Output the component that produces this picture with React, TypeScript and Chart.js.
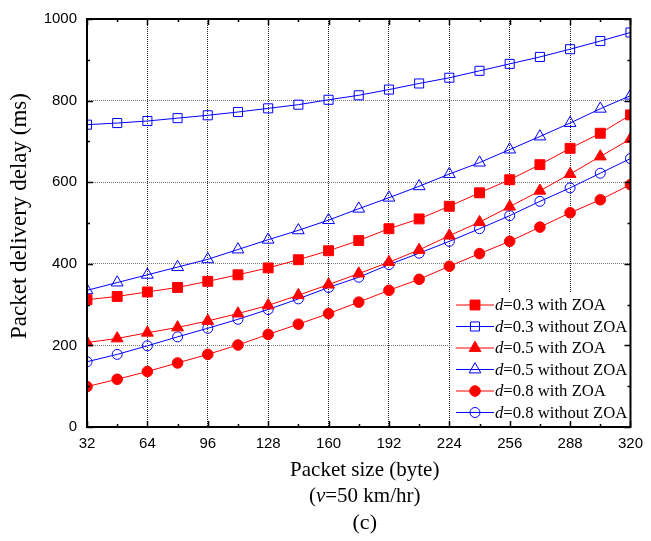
import React, { useEffect, useRef } from 'react';
import { Chart, registerables } from 'chart.js';

Chart.register(...registerables);

const packetSizes = [32, 48, 64, 80, 96, 112, 128, 144, 160, 176, 192, 208, 224, 240, 256, 272, 288, 304, 320];
const xTickValues = [32, 64, 96, 128, 160, 192, 224, 256, 288, 320];
const xMinorTicks = [48, 80, 112, 144, 176, 208, 240, 272, 304];
const yTickValues = [0, 200, 400, 600, 800, 1000];
const yMinorTicks = [100, 300, 500, 700, 900];

const d03With = [312, 320, 331, 342, 357, 373, 390, 410, 432, 457, 486, 510, 541, 574, 606, 643, 683, 720, 765];
const d03Without = [741, 745, 750, 757, 764, 772, 781, 790, 802, 813, 827, 842, 856, 873, 890, 907, 926, 946, 967];
const d05With = [207, 217, 231, 244, 260, 278, 298, 323, 349, 376, 404, 434, 469, 502, 540, 579, 620, 663, 706];
const d05Without = [335, 354, 373, 392, 411, 435, 459, 482, 507, 535, 562, 590, 620, 648, 680, 712, 745, 780, 812];
const d08With = [99, 117, 136, 157, 178, 201, 227, 252, 278, 306, 335, 362, 394, 425, 455, 490, 525, 557, 594];
const d08Without = [160, 178, 199, 221, 242, 264, 288, 314, 342, 367, 398, 426, 455, 486, 518, 553, 586, 622, 658];

const seriesLabels = ['d=0.3 with ZOA', 'd=0.3 without ZOA', 'd=0.5 with ZOA', 'd=0.5 without ZOA', 'd=0.8 with ZOA', 'd=0.8 without ZOA'];
const seriesValues = [d03With, d03Without, d05With, d05Without, d08With, d08Without];
const seriesColors = ['#ff0000', '#0000ff', '#ff0000', '#0000ff', '#ff0000', '#0000ff'];
const seriesStyles = ['rect', 'rect', 'triangle', 'triangle', 'circle', 'circle'];
const seriesFilled = [true, false, true, false, true, false];
const seriesRadius = [7, 6.4, 6.8, 6.8, 5.3, 5];

const xTitle = 'Packet size (byte)';
const xSubTitleItalic = 'v';
const xSubTitlePre = '(';
const xSubTitleRest = '=50 km/hr)';
const captionText = '(c)';
const yTitle = 'Packet delivery delay (ms)';

const SERIF = '"Liberation Serif", "Times New Roman", serif';
const SANS = '"Liberation Sans", Arial, sans-serif';

function drawMarker(ctx: CanvasRenderingContext2D, style: string, x: number, y: number, r: number, color: string, filled: boolean) {
  ctx.beginPath();
  if (style === 'rect') {
    const s = Math.SQRT1_2 * r;
    ctx.rect(x - s, y - s, 2 * s, 2 * s);
  } else if (style === 'triangle') {
    let rad = 0;
    ctx.moveTo(x + Math.sin(rad) * r, y - Math.cos(rad) * r);
    rad += (2 * Math.PI) / 3;
    ctx.lineTo(x + Math.sin(rad) * r, y - Math.cos(rad) * r);
    rad += (2 * Math.PI) / 3;
    ctx.lineTo(x + Math.sin(rad) * r, y - Math.cos(rad) * r);
    ctx.closePath();
  } else {
    ctx.arc(x, y, r, 0, Math.PI * 2);
  }
  if (filled) {
    ctx.fillStyle = color;
    ctx.fill();
  }
  ctx.strokeStyle = color;
  ctx.lineWidth = 1;
  ctx.stroke();
}

const framePlugin = {
  id: 'framePlugin',
  afterDraw(chart: any) {
    const ctx: CanvasRenderingContext2D = chart.ctx;
    const a = chart.chartArea;
    const xs = chart.scales.x;
    const ys = chart.scales.y;
    ctx.save();

    // legend
    const lgLeft = a.left + 366;
    const lgTop = a.top + 273;
    ctx.fillStyle = '#ffffff';
    ctx.fillRect(lgLeft, lgTop, a.right - lgLeft, a.bottom - lgTop);
    seriesLabels.forEach((label, i) => {
      const yy = a.top + 286 + i * 21.5;
      const x0 = lgLeft + 3;
      const x1 = lgLeft + 41;
      ctx.strokeStyle = seriesColors[i];
      ctx.lineWidth = 1;
      ctx.beginPath();
      ctx.moveTo(x0, yy);
      ctx.lineTo(x1, yy);
      ctx.stroke();
      drawMarker(ctx, seriesStyles[i], (x0 + x1) / 2, yy, seriesRadius[i], seriesColors[i], seriesFilled[i]);
      ctx.fillStyle = '#000';
      ctx.textBaseline = 'middle';
      ctx.textAlign = 'left';
      ctx.font = `italic 16.7px ${SERIF}`;
      const first = label.charAt(0);
      ctx.fillText(first, x1 + 1, yy + 1);
      const w = ctx.measureText(first).width;
      ctx.font = `16.7px ${SERIF}`;
      ctx.fillText(label.slice(1), x1 + 1 + w, yy + 1);
    });

    // frame
    ctx.strokeStyle = '#000';
    ctx.lineWidth = 2;
    ctx.strokeRect(a.left, a.top, a.right - a.left, a.bottom - a.top);

    // ticks (inward, mirrored)
    ctx.lineWidth = 1.5;
    ctx.beginPath();
    const xt = (v: number, len: number) => {
      const px = Math.round(xs.getPixelForValue(v)) + 0.5;
      ctx.moveTo(px, a.bottom);
      ctx.lineTo(px, a.bottom - len);
      ctx.moveTo(px, a.top);
      ctx.lineTo(px, a.top + len);
    };
    const yt = (v: number, len: number) => {
      const py = Math.round(ys.getPixelForValue(v)) + 0.5;
      ctx.moveTo(a.left, py);
      ctx.lineTo(a.left + len, py);
      ctx.moveTo(a.right, py);
      ctx.lineTo(a.right - len, py);
    };
    xTickValues.forEach((v) => xt(v, 6));
    xMinorTicks.forEach((v) => xt(v, 3));
    yTickValues.forEach((v) => yt(v, 6));
    yMinorTicks.forEach((v) => yt(v, 3));
    ctx.stroke();

    // titles
    ctx.fillStyle = '#000';
    ctx.textAlign = 'center';
    ctx.textBaseline = 'middle';
    const cx = (a.left + a.right) / 2 + 6;
    ctx.font = `21px ${SERIF}`;
    ctx.fillText(xTitle, cx, 470);

    ctx.font = `21px ${SERIF}`;
    const wPre = ctx.measureText(xSubTitlePre).width;
    const wRest = ctx.measureText(xSubTitleRest).width;
    ctx.font = `italic 21px ${SERIF}`;
    const wIt = ctx.measureText(xSubTitleItalic).width;
    const total = wPre + wIt + wRest;
    let sx = cx - total / 2;
    ctx.textAlign = 'left';
    ctx.font = `21px ${SERIF}`;
    ctx.fillText(xSubTitlePre, sx, 496);
    sx += wPre;
    ctx.font = `italic 21px ${SERIF}`;
    ctx.fillText(xSubTitleItalic, sx, 496);
    sx += wIt;
    ctx.font = `21px ${SERIF}`;
    ctx.fillText(xSubTitleRest, sx, 496);

    ctx.textAlign = 'center';
    ctx.font = `22px ${SERIF}`;
    ctx.fillText(captionText, cx, 523);

    ctx.translate(20, 216);
    ctx.rotate(-Math.PI / 2);
    ctx.font = `23px ${SERIF}`;
    ctx.fillText(yTitle, 0, 0);

    ctx.restore();
  },
};

export default function App() {
  const ref = useRef<HTMLCanvasElement | null>(null);

  useEffect(() => {
    if (!ref.current) return;
    const datasets = seriesLabels.map((label, i) => ({
      label,
      data: packetSizes.map((x, j) => ({ x, y: seriesValues[i][j] })),
      borderColor: seriesColors[i],
      backgroundColor: seriesColors[i],
      borderWidth: 1,
      pointStyle: seriesStyles[i],
      pointRadius: seriesRadius[i],
      pointBorderWidth: 1,
      pointBorderColor: seriesColors[i],
      pointBackgroundColor: seriesFilled[i] ? seriesColors[i] : 'rgba(0,0,0,0)',
      tension: 0,
      fill: false,
    }));

    const chart = new Chart(ref.current, {
      type: 'line',
      data: { datasets },
      options: {
        animation: false,
        responsive: false,
        devicePixelRatio: 1,
        layout: { padding: { left: 0, top: 17, right: 14, bottom: 0 } },
        plugins: { legend: { display: false }, tooltip: { enabled: false } },
        scales: {
          x: {
            type: 'linear',
            min: 32,
            max: 320,
            afterBuildTicks: (scale: any) => {
              scale.ticks = xTickValues.map((v) => ({ value: v }));
            },
            afterFit: (scale: any) => {
              scale.height = 114;
            },
            ticks: {
              autoSkip: false,
              maxRotation: 0,
              padding: 8,
              color: '#000',
              font: { family: SANS, size: 15 },
              callback: (v: any) => String(v),
            },
            grid: {
              drawTicks: false,
              color: (c: any) => (c.tick && (c.tick.value === 32 || c.tick.value === 320) ? 'rgba(0,0,0,0)' : '#222'),
              lineWidth: 1,
            },
            border: { display: false, dash: [1, 1] },
          },
          y: {
            type: 'linear',
            min: 0,
            max: 1000,
            afterBuildTicks: (scale: any) => {
              scale.ticks = yTickValues.map((v) => ({ value: v }));
            },
            afterFit: (scale: any) => {
              scale.width = 87;
            },
            ticks: {
              padding: 10,
              color: '#000',
              font: { family: SANS, size: 15 },
              callback: (v: any) => String(v),
            },
            grid: {
              drawTicks: false,
              color: (c: any) => (c.tick && (c.tick.value === 0 || c.tick.value === 1000) ? 'rgba(0,0,0,0)' : '#777'),
              lineWidth: 1,
            },
            border: { display: false, dash: [1, 1] },
          },
        },
      },
      plugins: [framePlugin],
    } as any);

    return () => chart.destroy();
  }, []);

  return (
    <div style={{ position: 'absolute', left: 0, top: 0, width: 651, height: 541, background: '#fff' }}>
      <canvas ref={ref} width={651} height={541} style={{ display: 'block', width: 651, height: 541 }} />
    </div>
  );
}
